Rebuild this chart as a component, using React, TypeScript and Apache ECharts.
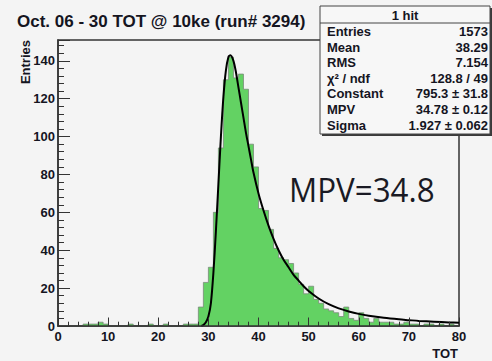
import React, { useEffect, useRef } from "react";
import * as echarts from "echarts";

const titleText = "Oct. 06 - 30 TOT @ 10ke (run# 3294)";
const xAxisTitle = "TOT";
const yAxisTitle = "Entries";
const annotation = "MPV=34.8";

// histogram: 80 bins of width 1 from 0 to 80
const binLow = 0;
const binWidth = 1;
const binCounts = [
  0, 0, 0, 0, 0, 1, 1, 1, 2, 1,
  0, 0, 0, 0, 1, 0, 0, 0, 1, 0,
  0, 1, 0, 0, 0, 1, 1, 1, 10, 23,
  31, 60, 94, 130, 142, 131, 133, 125, 96, 84,
  62, 61, 51, 41, 36, 35, 33, 28, 22, 17,
  21, 14, 12, 9, 8, 7, 5, 10, 4, 3,
  7, 4, 2, 4, 2, 2, 2, 1, 1, 2,
  1, 1, 0, 1, 1, 0, 1, 0, 1, 0,
];

// fitted Landau curve
const fitX = [28.6, 29, 29.5, 30, 30.5, 31, 31.5, 32, 32.5, 33, 33.5, 34, 34.4, 35, 35.5, 36, 36.5, 37, 37.5, 38, 38.5, 39, 40, 41, 42, 43, 44, 45, 46, 47, 48, 49, 50, 52, 54, 56, 58, 60, 62, 65, 68, 70, 72, 75, 78, 80];
const fitY = [0, 0.5, 2, 5, 12, 28, 50, 75, 100, 121, 135, 142, 143, 140, 134, 126, 118, 110, 102, 95, 88, 81, 70, 61, 53, 46, 40, 35, 31, 27, 24, 21, 18.5, 14.5, 11.5, 9.3, 7.7, 6.4, 5.4, 4.3, 3.5, 3.1, 2.7, 2.3, 1.9, 1.7];

const xMin = 0;
const xMax = 80;
const xInterval = 10;
const yMin = 0;
const yMax = 151;
const yInterval = 20;
const yMinorInterval = 4;

const statsTitle = "1 hit";
const statLabels = ["Entries", "Mean", "RMS", "χ² / ndf", "Constant", "MPV", "Sigma"];
const statValues = ["1573", "38.29", "7.154", "128.8 / 49", "795.3 ± 31.8", "34.78 ± 0.12", "1.927 ± 0.062"];

const TEXT = "#15151f";
const FRAME = "#333333";
const GREEN = "#63d263";
const BG = "#f4f4f4";

export default function App() {
  const ref = useRef<HTMLDivElement>(null);
  useEffect(() => {
    document.body.style.margin = "0";
    const chart = echarts.init(ref.current!, null, { renderer: "svg" });

    const histData: number[][] = binCounts.map((c, i) => [binLow + i * binWidth, c]);
    histData.push([binLow + binCounts.length * binWidth, binCounts[binCounts.length - 1]]);
    const fitData = fitX.map((x, i) => [x, fitY[i]]);

    const boxX = 320, boxY = 6, boxW = 170, boxH = 128;
    const rowY0 = 31.5, rowStep = 15.6;
    const statFont = 'bold 13px "Liberation Sans", Arial, sans-serif';

    const statTexts: any[] = [];
    statLabels.forEach((l, i) => {
      statTexts.push({
        type: "text", z: 102, x: boxX + 7, y: rowY0 + i * rowStep,
        style: { text: l, font: statFont, fill: TEXT, align: "left", verticalAlign: "middle" },
      });
      statTexts.push({
        type: "text", z: 102, x: boxX + boxW - 2, y: rowY0 + i * rowStep,
        style: { text: statValues[i], font: statFont, fill: TEXT, align: "right", verticalAlign: "middle" },
      });
    });

    const labelFont = { fontFamily: '"Liberation Sans", Arial, sans-serif', fontWeight: "bold" as const, fontSize: 13, color: TEXT };

    chart.setOption({
      animation: false,
      backgroundColor: BG,
      grid: {
        left: 58, top: 40, right: 33, bottom: 35,
        show: true, borderColor: FRAME, borderWidth: 1.5, backgroundColor: "transparent",
        containLabel: false, outerBoundsMode: "none",
      },
      xAxis: {
        type: "value", min: xMin, max: xMax, interval: xInterval, z: 10,
        axisLine: { show: true, onZero: false, lineStyle: { color: FRAME, width: 1.5 } },
        axisTick: { show: true, inside: true, length: 8.5, lineStyle: { color: FRAME, width: 1 } },
        minorTick: { show: true, splitNumber: 5, length: 4.3, lineStyle: { color: FRAME, width: 1 } },
        axisLabel: { ...labelFont, margin: 4 },
        splitLine: { show: false },
      },
      yAxis: [
        {
          type: "value", min: yMin, max: yMax, interval: yInterval, position: "left", z: 10,
          axisLine: { show: true, onZero: false, lineStyle: { color: FRAME, width: 1.5 } },
          axisTick: { show: true, inside: true, length: 12, lineStyle: { color: FRAME, width: 1 } },
          axisLabel: { ...labelFont, margin: 3, formatter: (v: number) => (v % yInterval === 0 ? String(v) : "") },
          splitLine: { show: false },
        },
        {
          type: "value", min: yMin, max: yMax, interval: yMinorInterval, position: "left", z: 10,
          axisLine: { show: false },
          axisTick: { show: true, inside: true, length: 6, lineStyle: { color: FRAME, width: 1 } },
          axisLabel: { show: false },
          splitLine: { show: false },
        },
      ],
      series: [
        {
          type: "line", step: "end", data: histData, symbol: "none", yAxisIndex: 0,
          lineStyle: { color: "#7a8a7a", width: 0.8 },
          areaStyle: { color: GREEN, opacity: 1 },
          z: 2,
        },
        {
          type: "line", data: fitData, symbol: "none", smooth: 0.3, yAxisIndex: 0,
          lineStyle: { color: "#000000", width: 2 },
          z: 3,
        },
      ],
      graphic: [
        {
          type: "text", x: 17, y: 21, z: 50,
          style: { text: titleText, font: 'bold 17px "Liberation Sans", Arial, sans-serif', fill: TEXT, align: "left", verticalAlign: "middle" },
        },
        {
          type: "text", x: 25, y: 40, rotation: Math.PI / 2, z: 50,
          style: { text: yAxisTitle, font: 'bold 13px "Liberation Sans", Arial, sans-serif', fill: TEXT, align: "right", verticalAlign: "middle" },
        },
        {
          type: "text", x: 458, y: 353, z: 50,
          style: { text: xAxisTitle, font: 'bold 13px "Liberation Sans", Arial, sans-serif', fill: TEXT, align: "right", verticalAlign: "middle" },
        },
        {
          type: "text", x: 289, y: 189, z: 50, scaleX: 0.95,
          style: { text: annotation, font: '33px "Open Sans", sans-serif', fill: "#1a1a24", align: "left", verticalAlign: "middle" },
        },
        { type: "rect", z: 99, shape: { x: boxX + 2, y: boxY + 2, width: boxW, height: boxH }, style: { fill: "#3a3a3a" } },
        { type: "rect", z: 100, shape: { x: boxX, y: boxY, width: boxW, height: boxH }, style: { fill: "#f7f7f7", stroke: "#444", lineWidth: 1 } },
        { type: "line", z: 101, shape: { x1: boxX, y1: 23, x2: boxX + boxW, y2: 23 }, style: { stroke: "#444", lineWidth: 1 } },
        {
          type: "text", x: boxX + boxW / 2, y: 15, z: 102,
          style: { text: statsTitle, font: statFont, fill: TEXT, align: "center", verticalAlign: "middle" },
        },
        ...statTexts,
      ],
    });
    return () => chart.dispose();
  }, []);
  return <div ref={ref} style={{ width: 492, height: 361 }} />;
}
